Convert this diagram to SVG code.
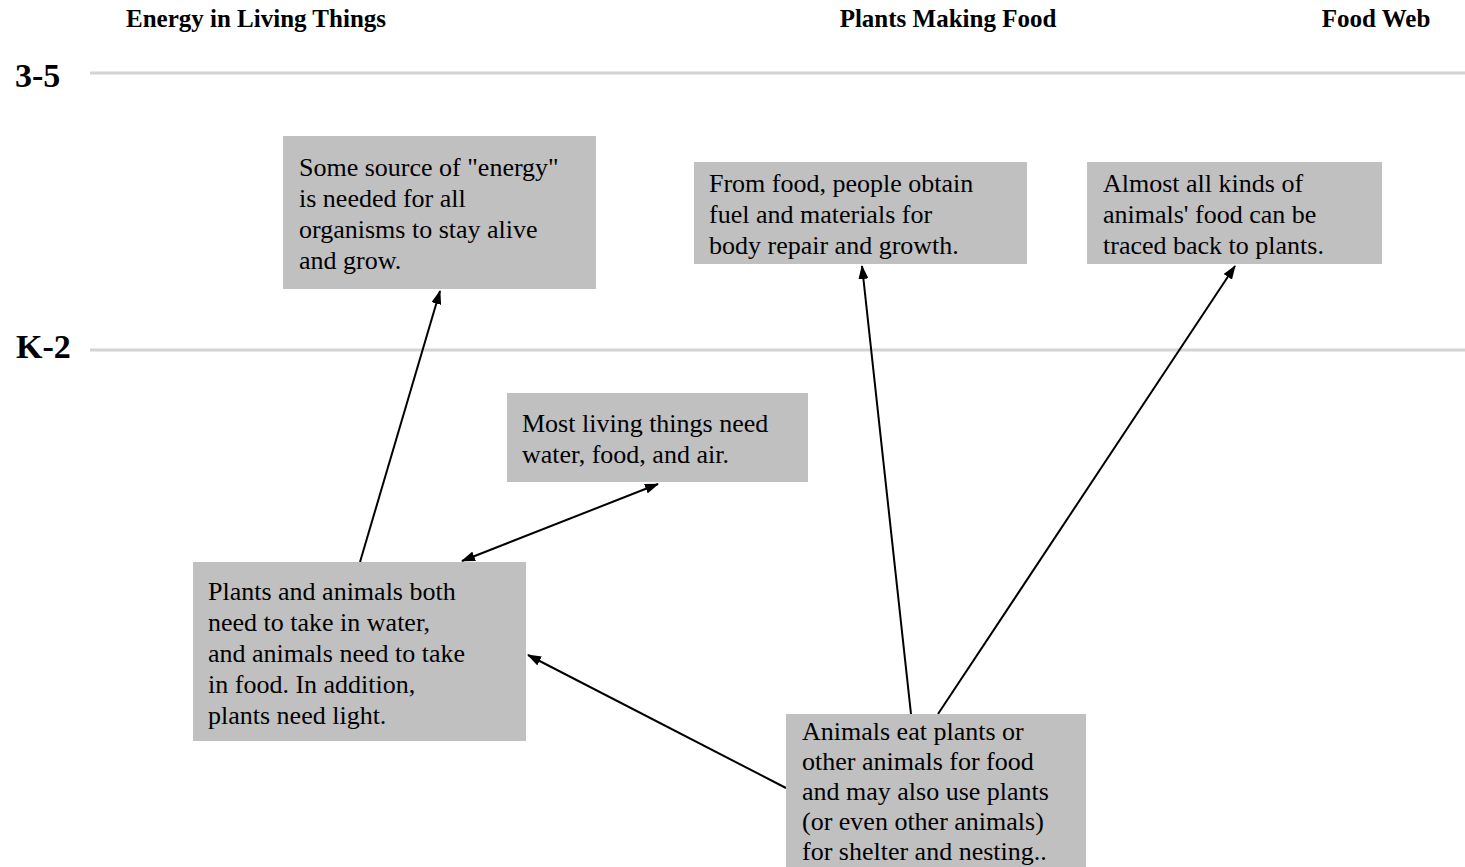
<svg xmlns="http://www.w3.org/2000/svg" width="1465" height="867" viewBox="0 0 1465 867">
<style>
.hdr{font-family:"Liberation Serif","Times New Roman","DejaVu Serif",serif;font-weight:bold;font-size:25px;fill:#000}
.lvl{font-family:"Liberation Serif","Times New Roman","DejaVu Serif",serif;font-weight:bold;font-size:34px;fill:#000}
.box{fill:#c0c0c0}
.t{font-family:"Liberation Serif","Times New Roman","DejaVu Serif",serif;font-size:26px;fill:#000}
.rule{stroke:#d3d3d3;stroke-width:3}
.c{stroke:#000;stroke-width:2;fill:none}
</style>
<defs>
<marker id="ah" markerWidth="14" markerHeight="10" refX="13" refY="5" orient="auto" markerUnits="userSpaceOnUse">
<path d="M0,0 L14,5 L0,10 z" fill="#000"/>
</marker>
<marker id="ahs" markerWidth="14" markerHeight="10" refX="1" refY="5" orient="auto" markerUnits="userSpaceOnUse">
<path d="M14,0 L0,5 L14,10 z" fill="#000"/>
</marker>
</defs>
<rect width="1465" height="867" fill="#fff"/>
<g id="headers">
<text class="hdr" x="256" y="27" text-anchor="middle">Energy in Living Things</text>
<text class="hdr" x="948" y="27" text-anchor="middle">Plants Making Food</text>
<text class="hdr" x="1376" y="27" text-anchor="middle">Food Web</text>
</g>
<g id="levels">
<text class="lvl" x="15" y="87">3-5</text>
<line class="rule" x1="90" y1="73" x2="1465" y2="73"/>
<text class="lvl" x="16" y="358">K-2</text>
<line class="rule" x1="90" y1="350" x2="1465" y2="350"/>
</g>
<g id="connectors">
<line class="c" x1="360" y1="562" x2="440" y2="291" marker-end="url(#ah)"/>
<line class="c" x1="462" y1="561" x2="658" y2="484" marker-start="url(#ahs)" marker-end="url(#ah)"/>
<line class="c" x1="786" y1="788" x2="528" y2="655" marker-end="url(#ah)"/>
<line class="c" x1="911" y1="714" x2="862" y2="266" marker-end="url(#ah)"/>
<line class="c" x1="938" y1="714" x2="1235" y2="266" marker-end="url(#ah)"/>
</g>
<g id="node-energy">
<rect class="box" x="283" y="136" width="313" height="153"/>
<text class="t" x="299" y="176">Some source of "energy"</text>
<text class="t" x="299" y="207">is needed for all</text>
<text class="t" x="299" y="238">organisms to stay alive</text>
<text class="t" x="299" y="269">and grow.</text>
</g>
<g id="node-people">
<rect class="box" x="694" y="162" width="333" height="102"/>
<text class="t" x="709" y="192">From food, people obtain</text>
<text class="t" x="709" y="223">fuel and materials for</text>
<text class="t" x="709" y="254">body repair and growth.</text>
</g>
<g id="node-plants-traced">
<rect class="box" x="1087" y="162" width="295" height="102"/>
<text class="t" x="1103" y="192">Almost all kinds of</text>
<text class="t" x="1103" y="223">animals' food can be</text>
<text class="t" x="1103" y="254">traced back to plants.</text>
</g>
<g id="node-most-living">
<rect class="box" x="507" y="393" width="301" height="89"/>
<text class="t" x="522" y="432">Most living things need</text>
<text class="t" x="522" y="463">water, food, and air.</text>
</g>
<g id="node-plants-animals">
<rect class="box" x="193" y="562" width="333" height="179"/>
<text class="t" x="208" y="600">Plants and animals both</text>
<text class="t" x="208" y="631">need to take in water,</text>
<text class="t" x="208" y="662">and animals need to take</text>
<text class="t" x="208" y="693">in food. In addition,</text>
<text class="t" x="208" y="724">plants need light.</text>
</g>
<g id="node-animals-eat">
<rect class="box" x="786" y="714" width="300" height="153"/>
<text class="t" x="802" y="740">Animals eat plants or</text>
<text class="t" x="802" y="770">other animals for food</text>
<text class="t" x="802" y="800">and may also use plants</text>
<text class="t" x="802" y="830">(or even other animals)</text>
<text class="t" x="802" y="860">for shelter and nesting..</text>
</g>
</svg>
